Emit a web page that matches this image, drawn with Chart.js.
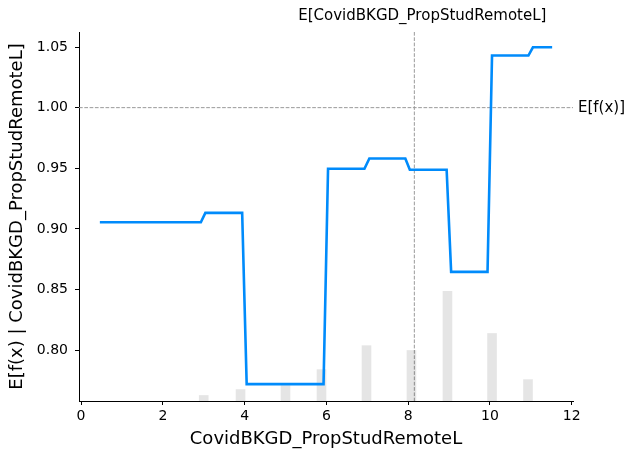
<!DOCTYPE html>
<html>
<head>
<meta charset="utf-8">
<script src="https://cdn.jsdelivr.net/npm/chart.js@4"></script>
<style>
  html, body { margin: 0; padding: 0; background: #fff; }
  #wrap { width: 636px; height: 459px; }
</style>
</head>
<body>
<div id="wrap"><canvas id="pdp"></canvas></div>
<script>
// partial dependence curve (feature value, expected model output)
const curveX = [0.46, 2.93, 3.04, 3.94, 4.05, 5.93, 6.04, 6.93, 7.05, 7.93, 8.04, 8.94, 9.05, 9.94, 10.05, 10.94, 11.05, 11.52];
const curveY = [0.9055, 0.9055, 0.9132, 0.9132, 0.7719, 0.7719, 0.9496, 0.9496, 0.9581, 0.9581, 0.9488, 0.9488, 0.8645, 0.8645, 1.043, 1.043, 1.0498, 1.0498];

// background histogram of the feature (percent of samples)
const histX = [3.0, 3.9, 5.0, 5.88, 6.98, 8.08, 8.96, 10.05, 10.93];
const histPct = [1.5, 3.1, 4.2, 8.5, 15.0, 13.7, 29.7, 18.3, 5.8];

const xTicks = [0, 2, 4, 6, 8, 10, 12];
const yTicks = [0.80, 0.85, 0.90, 0.95, 1.00, 1.05];

const featureName = 'CovidBKGD_PropStudRemoteL';
const meanFeature = 8.15;
const meanOutput = 1.0;

const FONT = 'DejaVu Sans';

// dashed reference lines + their labels
const refLines = {
  id: 'refLines',
  beforeDatasetsDraw(chart) {
    const { ctx, chartArea: a, scales: { x, y } } = chart;
    const px = x.getPixelForValue(meanFeature);
    const py = y.getPixelForValue(meanOutput);
    ctx.save();
    ctx.strokeStyle = '#999999';
    ctx.lineWidth = 1;
    ctx.setLineDash([3.7, 1.6]);
    ctx.beginPath();
    ctx.moveTo(a.left, py); ctx.lineTo(a.right, py);
    ctx.moveTo(px, a.top); ctx.lineTo(px, a.bottom);
    ctx.stroke();
    ctx.restore();
  },
  afterDraw(chart) {
    const { ctx, chartArea: a, scales: { x, y } } = chart;
    const px = x.getPixelForValue(meanFeature);
    const py = y.getPixelForValue(meanOutput);
    ctx.save();
    ctx.fillStyle = '#000';
    ctx.font = '15px "' + FONT + '"';
    ctx.textBaseline = 'middle';
    ctx.textAlign = 'left';
    ctx.fillText('E[f(x)]', a.right + 5, py);
    ctx.textAlign = 'center';
    ctx.fillText('E[' + featureName + ']', px + 8, a.top - 16);
    ctx.restore();
  }
};

new Chart(document.getElementById('pdp'), {
  data: {
    datasets: [
      {
        type: 'line',
        data: curveX.map((v, i) => ({ x: v, y: curveY[i] })),
        borderColor: '#008bfb',
        borderWidth: 2.6,
        pointRadius: 0,
        tension: 0,
        fill: false,
        order: 0,
        yAxisID: 'y'
      },
      {
        type: 'bar',
        data: histX.map((v, i) => ({ x: v, y: histPct[i] })),
        backgroundColor: 'rgba(0,0,0,0.1)',
        barThickness: 9,
        order: 1,
        yAxisID: 'y2'
      }
    ]
  },
  options: {
    responsive: true,
    maintainAspectRatio: false,
    animation: false,
    events: [],
    layout: { padding: { left: 0, right: 63, top: 32, bottom: 0 } },
    plugins: { legend: { display: false }, tooltip: { enabled: false } },
    scales: {
      x: {
        type: 'linear',
        offset: false,
        min: -0.05,
        max: 12.03,
        afterBuildTicks: s => { s.ticks = xTicks.map(v => ({ value: v })); },
        afterFit: s => { s.height = 58; },
        grid: { offset: false, drawOnChartArea: false, drawTicks: true, tickLength: 4, tickColor: '#000' },
        border: { display: true, color: '#000', width: 1 },
        ticks: { color: '#000', font: { family: FONT, size: 14 }, padding: 3, maxRotation: 0 },
        title: { display: true, text: featureName, color: '#000', font: { family: FONT, size: 18 }, padding: { top: 0, bottom: 9 } }
      },
      y: {
        type: 'linear',
        min: 0.758,
        max: 1.0624,
        afterBuildTicks: s => { s.ticks = yTicks.map(v => ({ value: v })); },
        afterFit: s => { s.width = 79; },
        grid: { drawOnChartArea: false, drawTicks: true, tickLength: 4, tickColor: '#000' },
        border: { display: true, color: '#000', width: 1 },
        ticks: { color: '#000', font: { family: FONT, size: 14 }, padding: 7, callback: v => v.toFixed(2) },
        title: { display: true, text: 'E[f(x) | ' + featureName + ']', color: '#000', font: { family: FONT, size: 18 }, padding: { top: 7, bottom: 0 } }
      },
      y2: {
        type: 'linear',
        display: false,
        min: 0,
        max: 100
      }
    }
  },
  plugins: [refLines]
});
</script>
</body>
</html>
